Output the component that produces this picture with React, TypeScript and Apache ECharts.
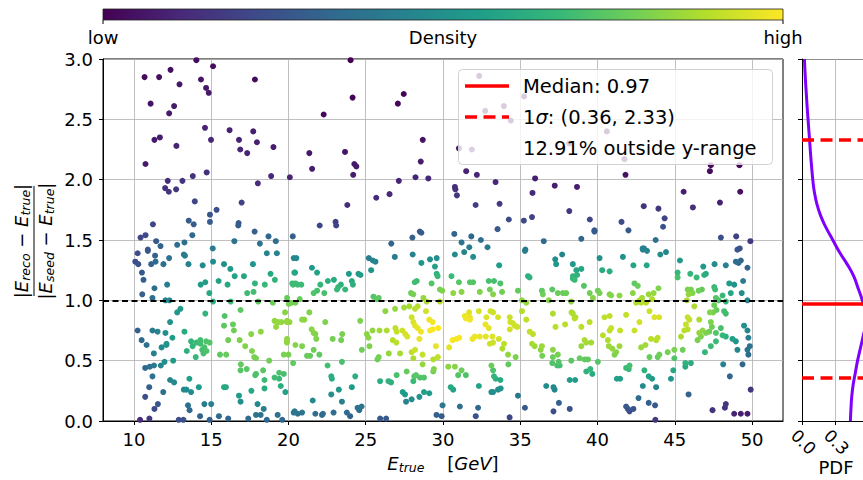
import React, { useEffect, useRef } from "react";
import * as echarts from "echarts";

const FONT = "DejaVu Sans";

// x-axis (E_true) ticks
const xTicks = [10, 15, 20, 25, 30, 35, 40, 45, 50];

// scatter points [E_true, ratio]
const pointsUpper: [number, number][] = [
  [10.69,2.85],[11.63,2.85],[12.37,2.91],[14.04,2.99],[15.12,2.94],[14.34,2.83],[14.67,2.76],[14.84,2.72],[12.95,2.79],[11.08,2.63],[12.6,2.61],[12.28,2.55],[17.83,2.83],[14.6,2.43],[11.33,2.33],[11.68,2.35],[14.99,2.33],[16.19,2.41],[16.8,2.33],[17.72,2.40],[17.96,2.31],[16.88,2.25],[17.33,2.22],[19.03,2.27],[12.75,2.28],[10.75,2.13],[13.81,2.03],[14.71,2.06],[12.19,1.99],[13.14,1.99],[12.02,1.93],[12.26,1.90],[12.73,1.92],[18.88,2.03],[18.02,1.97],[20.09,2.02],[13.94,1.82],[16.97,1.81],[15.35,1.75],[14.92,1.71],[14.92,1.65],[13.55,1.66],[13.87,1.63],[11.23,1.63],[16.75,1.62],[16.77,1.64],[17.81,1.57],[10.43,1.52],[10.75,1.54],[13.78,1.54],[11.44,1.49],[11.72,1.45],[12.8,1.46],[13.27,1.48],[16.5,1.49],[18.15,1.47],[18.71,1.53],[19.18,1.49],[20.28,1.53],[10.9,1.42],[15.1,1.43],
  [24.02,2.99],[24.15,2.68],[22.28,2.54],[27.46,2.71],[27.08,2.63],[28.69,2.33],[28.56,2.15],[21.35,2.22],[23.66,2.23],[21.53,2.09],[24.26,2.13],[24.39,2.11],[24.19,2.04],[27.14,1.99],[28.22,2.02],[29.05,2.01],[25.68,1.85],[26.54,1.88],[23.81,1.79],[22.02,1.62],[23.05,1.65],[23.09,1.62],[26.65,1.47],[28.02,1.52],[28.5,1.57],[28.6,1.56],[30.73,1.55],[31.2,1.48],[31.83,1.53],[32.45,1.50],[31.7,1.44],[32.88,1.44],[33.53,1.59],[34.26,1.67],[35.23,1.66],[35.76,1.69],[35.33,1.42],[36.52,1.49],[38.17,1.74],[35.79,1.89],[37.23,1.95],[38.67,1.94],[35.96,2.01],[33.4,1.98],[32.19,2.04],[31.5,2.07],[30.77,1.94],[30.8,1.92],[30.9,1.87],[32.11,1.79],[33.66,1.80],[32.34,2.86],[32.73,2.57],[33.94,2.61],[34.39,2.49],[35.25,2.69],[31.03,2.26],[31.87,2.25],
  [40.6,2.40],[38.17,2.30],[41.74,2.17],[41.81,2.04],[47.33,2.12],[47.27,2.07],[49.18,2.12],[45.57,1.90],[49.23,1.90],[42.99,1.78],[43.94,1.76],[46.17,1.77],[47.92,1.81],[39.5,1.67],[41.55,1.65],[44.34,1.68],[44.24,1.61],[42.0,1.58],[39.8,1.57],[39.8,1.58],[38.95,1.51],[43.76,1.50],[47.98,1.52],[48.97,1.53],[49.89,1.49],[42.92,1.43],[43.0,1.43],[49.2,1.43],
];

const pointsLeft: [number, number][] = [
  [10.24,1.39],[10.9,1.41],[11.37,1.37],[12.28,1.35],[10.09,1.32],[10.28,1.30],[11.12,1.30],[11.4,1.32],[11.91,1.30],[10.52,1.23],[10.62,1.17],[10.54,1.05],[11.2,1.02],[11.33,1.10],[12.15,1.13],[13.23,1.38],[13.3,1.37],[13.53,1.30],[14.45,1.29],[15.12,1.32],[15.83,1.30],[16.24,1.26],[16.52,1.20],[17.12,1.20],[17.7,1.30],[18.6,1.39],[19.25,1.39],[18.84,1.22],[19.12,1.17],[17.33,1.06],[17.74,1.07],[17.83,1.14],[18.47,1.13],[18.04,0.99],[14.62,1.15],[14.32,1.13],[14.88,1.06],[15.48,1.16],[16.06,1.13],[16.26,0.99],[15.12,0.99],[12.04,1.0],[12.3,1.0],[18.99,0.98],[20.02,0.97],[20.43,1.23],[20.3,1.13],[20.6,1.13],[20.34,1.35],
  [13.01,0.93],[12.8,0.90],[14.62,0.89],[15.87,0.87],[16.9,0.92],[12.34,0.82],[10.24,0.75],[11.2,0.75],[11.53,0.74],[12.04,0.73],[13.27,0.74],[12.49,0.69],[10.5,0.67],[10.82,0.63],[12.11,0.64],[12.1,0.63],[11.79,0.61],[11.29,0.56],[13.7,0.66],[13.8,0.62],[13.42,0.58],[14.04,0.65],[14.3,0.64],[14.3,0.67],[14.68,0.66],[14.56,0.61],[14.42,0.59],[14.5,0.56],[14.7,0.58],[14.9,0.65],[14.0,0.53],[16.41,0.80],[16.47,0.75],[16.84,0.67],[17.2,0.62],[17.59,0.72],[18.21,0.74],[17.64,0.58],[17.78,0.53],[17.9,0.52],[15.57,0.55],[15.97,0.55],[15.83,0.79],[16.1,0.67],
  [10.73,0.44],[11.03,0.45],[11.3,0.46],[11.74,0.46],[11.98,0.49],[12.54,0.50],[11.2,0.37],[12.34,0.34],[12.6,0.32],[13.59,0.35],[13.23,0.26],[13.4,0.26],[14.2,0.28],[13.7,0.24],[10.99,0.28],[10.73,0.20],[11.9,0.24],[11.55,0.14],[11.33,0.10],[13.5,0.13],[13.6,0.09],[14.28,0.04],[14.56,0.14],[15.0,0.14],[15.83,0.28],[15.95,0.28],[16.92,0.47],[17.3,0.43],[16.9,0.42],[17.9,0.39],[17.85,0.38],[18.36,0.42],[18.75,0.50],[18.45,0.34],[19.1,0.36],[19.4,0.35],[19.4,0.40],[19.7,0.39],[19.5,0.29],[19.8,0.24],[16.8,0.21],[16.9,0.16],[17.6,0.25],[18.45,0.27],[18.0,0.14],[18.4,0.10],[18.2,0.05],[17.9,0.05],[15.5,0.04],[16.1,0.02],[17.4,0.02],[14.9,0.01],[18.6,0.01],[19.6,0.01],[19.3,0.05],[20.4,0.08],[20.6,0.06],[10.4,0.01],[11.0,0.02],[12.9,0.01],[13.2,0.01],
  [19.1,0.83],[19.35,0.82],[19.55,0.82],[19.9,0.82],[20.07,0.82],[19.2,0.78],[19.9,0.66],[19.9,0.65],[19.7,0.55],[20.0,0.55],
];

const pointsMiddle: [number, number][] = [
  [20.51,1.35],[25.2,1.35],[25.46,1.33],[25.63,1.32],[26.88,1.36],[28.04,1.38],[28.6,1.31],[29.16,1.34],[29.59,1.35],[29.48,1.28],[30.77,1.38],[31.37,1.40],[31.95,1.36],[33.63,1.29],[35.3,1.41],[37.26,1.34],[37.32,1.30],[37.71,1.38],[38.4,1.30],
  [20.38,1.23],[21.52,1.27],[21.85,1.23],[23.91,1.22],[24.53,1.22],[24.66,1.21],[25.35,1.25],[29.59,1.22],[29.65,1.20],[30.55,1.20],
  [20.25,1.14],[20.45,1.14],[20.83,1.13],[22.55,1.16],[22.94,1.17],[22.06,1.13],[23.22,1.11],[23.39,1.13],[23.14,1.09],[23.67,1.09],[24.1,1.16],[24.17,1.13],[21.63,1.06],[21.85,1.08],[22.32,1.06],[28.17,1.15],[28.3,1.16],[29.26,1.14],[29.8,1.09],[29.95,1.08],[31.03,1.15],[31.74,1.15],[31.95,1.15],[32.96,1.16],[33.3,1.16],[33.71,1.14],[32.38,1.07],[33.03,1.09],[33.82,1.07],[33.24,1.05],[34.85,1.08],[35.5,1.20],[35.6,1.19],[36.4,1.08],[36.46,1.05],[37.07,1.09],[37.76,1.06],[37.97,1.06],[38.68,1.21],[38.4,1.18],
  [19.91,1.02],[20.21,0.98],[20.45,0.98],[20.73,1.01],[25.5,1.03],[25.72,1.01],[25.84,1.02],[27.93,1.06],[28.08,1.05],[28.73,1.02],[28.94,0.99],[29.8,0.99],[30.66,1.06],[31.2,1.07],[35.11,1.0],[35.39,0.98],[36.85,1.0],[37.43,1.06],[38.29,0.99],
  [19.78,0.90],[20.88,0.84],[21.03,0.84],[21.35,0.90],[19.91,0.83],[21.63,0.73],[21.74,0.72],[21.5,0.76],[21.8,0.68],[22.38,0.82],[22.86,0.68],[23.48,0.72],[23.41,0.67],[19.91,0.68],[20.45,0.63],[20.88,0.62],[21.63,0.59],[21.2,0.54],[21.4,0.54],[22.0,0.55],[20.3,0.48],[22.53,0.46],[23.46,0.49],
  [24.64,0.83],[25.07,0.72],[25.18,0.69],[25.44,0.75],[25.24,0.62],[25.84,0.53],[25.76,0.51],[24.75,0.59],[25.89,0.75],[26.36,0.75],[26.27,0.91],[26.9,0.93],[27.48,0.94],[27.82,0.95],[28.19,0.93],[28.36,0.95],
  [26.92,0.77],[27.0,0.74],[27.37,0.75],[27.56,0.72],[27.69,0.70],[26.75,0.67],[26.98,0.65],[27.97,0.86],[28.08,0.82],[28.19,0.79],[28.36,0.77],[28.57,0.74],[28.9,0.91],[29.11,0.84],[29.33,0.82],[29.16,0.75],[29.33,0.76],[29.69,0.77],
  [26.49,0.56],[27.22,0.56],[27.97,0.57],[28.19,0.59],[28.08,0.52],[28.68,0.55],[28.68,0.47],[29.37,0.51],[29.67,0.53],[28.47,0.68],[29.54,0.62],[30.4,0.61],[30.62,0.67],[30.88,0.68],[31.05,0.69],
  [31.41,0.87],[31.48,0.85],[31.74,0.86],[31.74,0.84],[31.69,0.90],[32.32,0.91],[32.81,0.86],[33.07,0.91],[33.24,0.90],[33.56,0.86],
  [31.91,0.68],[32.06,0.70],[32.38,0.70],[32.77,0.70],[33.2,0.70],[33.61,0.68],[33.03,0.64],[33.24,0.65],[33.84,0.60],
  [32.75,0.80],[32.96,0.77],[34.32,0.86],[34.36,0.82],[34.53,0.81],[34.64,0.79],[34.81,0.78],[34.32,0.76],[35.11,0.91],[35.39,0.84],[35.61,0.74],[35.82,0.72],[35.93,0.62],[35.76,0.64],
  [34.21,0.55],[34.7,0.53],[33.95,0.64],[36.4,0.62],[36.32,0.59],[36.42,0.54],[37.11,0.59],[37.28,0.78],[37.9,0.80],[37.11,0.89],[38.4,0.89],[38.57,0.86],[37.11,0.53],[37.43,0.55],[37.07,0.48],[37.39,0.46],[37.48,0.49],
  [33.13,0.46],[33.24,0.42],[33.3,0.37],[33.41,0.35],[33.71,0.34],[33.13,0.24],[33.24,0.24],[33.56,0.26],[33.73,0.27],[34.23,0.47],
  [30.34,0.45],[30.77,0.45],[31.2,0.42],[31.48,0.38],[30.98,0.38],[32.32,0.29],
  [27.65,0.41],[28.14,0.37],[28.25,0.38],[28.51,0.36],[28.77,0.36],[28.08,0.33],[29.41,0.43],[29.37,0.41],[27.0,0.38],[26.64,0.32],[25.93,0.33],[26.47,0.33],
  [27.39,0.24],[27.54,0.22],[28.77,0.24],[29.11,0.23],[27.61,0.16],[27.97,0.18],[28.47,0.20],
  [24.32,0.37],[24.1,0.28],[22.77,0.37],[22.81,0.35],[23.26,0.26],[22.77,0.22],[23.46,0.16],[21.57,0.17],[24.73,0.12],[24.47,0.11],[24.58,0.09],
  [25.93,0.02],[26.32,0.02],[29.97,0.13],[29.91,0.04],[29.58,0.05],[31.09,0.12],[32.12,0.04],[32.27,0.11],[34.31,0.03],[34.85,0.21],[35.3,0.11],[36.68,0.29],[37.15,0.28],[37.22,0.26],[37.5,0.15],[37.15,0.08],[38.2,0.10],[38.2,0.34],[38.55,0.34],
  [20.34,0.07],[20.88,0.07],[21.74,0.06],[22.17,0.05],[22.23,0.06],[22.92,0.07],[23.78,0.07],[23.99,0.04],[30.66,0.26],[30.5,0.28],
];

const pointsRight: [number, number][] = [
  [40.13,1.35],[41.64,1.36],[42.32,1.29],[42.93,1.42],[43.2,1.41],[43.18,1.29],[44.06,1.38],[44.43,1.40],[45.33,1.33],[49.05,1.42],[48.95,1.32],[49.12,1.31],[49.27,1.33],[49.7,1.27],[48.3,1.29],[47.57,1.30],[46.84,1.28],[47.01,1.22],[46.9,1.21],[46.41,1.19],[46.0,1.22],[45.18,1.23],[45.18,1.19],[38.63,1.25],[38.95,1.26],[40.3,1.25],[40.78,1.24],[38.41,1.20],[38.52,1.17],[39.12,1.12],[39.49,1.06],[40.02,1.08],[40.13,1.06],[40.78,1.05],[40.88,1.04],[41.42,1.04],[42.39,1.14],[42.6,1.12],[42.28,1.06],[42.88,1.02],[43.31,1.05],[43.63,1.06],[43.94,1.10],[43.53,1.01],[45.83,1.09],[46.04,1.09],[46.15,1.06],[46.54,1.08],[46.75,1.09],[45.89,1.05],[47.55,1.11],[47.61,1.09],[48.09,1.04],[48.52,1.14],[48.84,1.13],[49.42,1.16],[48.62,1.06],[49.33,1.06],[47.66,1.02],[47.83,1.0],[48.3,0.99],[49.7,1.0],[45.78,1.0],[39.7,1.02],[42.71,1.0],[42.82,0.98],[42.5,0.98],[43.14,0.98],
  [46.26,0.95],[47.55,0.96],[47.7,0.92],[47.27,0.90],[47.48,0.90],[48.19,0.91],[48.3,0.89],[38.32,0.90],[38.52,0.85],[39.49,0.82],[40.45,0.86],[40.78,0.87],[41.85,0.88],[42.71,0.82],[43.36,0.91],[43.68,0.86],[43.99,0.86],[45.83,0.86],[45.94,0.84],[45.72,0.80],[46.58,0.84],[47.33,0.82],[47.4,0.78],[46.8,0.75],[46.58,0.73],[46.69,0.70],[47.01,0.73],[47.23,0.74],[47.66,0.73],[47.98,0.77],[48.09,0.71],[48.3,0.70],[48.73,0.68],[48.95,0.66],[49.48,0.79],[49.7,0.75],[49.76,0.69],[49.85,0.62],[49.7,0.59],[49.76,0.55],[49.05,0.59],[47.66,0.66],[47.33,0.62],[46.95,0.57],[46.47,0.67],[45.4,0.70],[45.61,0.75],[45.83,0.76],[45.51,0.59],[44.97,0.59],[44.97,0.52],[44.54,0.57],[44.0,0.55],[43.89,0.53],[43.36,0.53],[43.79,0.67],[43.89,0.69],[43.46,0.68],[43.1,0.63],[42.82,0.61],[42.39,0.75],[41.46,0.75],[40.88,0.77],[40.78,0.75],[40.67,0.67],[40.73,0.62],[40.95,0.60],[41.42,0.62],[41.2,0.57],[41.1,0.55],[40.35,0.71],[38.95,0.78],[39.16,0.67],[39.27,0.65],[39.59,0.65],[38.95,0.62],[38.84,0.52],[39.16,0.51],[39.38,0.51],[40.02,0.49],[38.3,0.50],[37.55,0.46],
  [39.27,0.41],[39.53,0.43],[39.66,0.39],[41.25,0.35],[41.46,0.35],[41.85,0.44],[42.07,0.46],[42.02,0.43],[43.03,0.42],[43.31,0.37],[43.53,0.35],[43.79,0.28],[42.93,0.29],[44.75,0.35],[44.9,0.42],[45.68,0.48],[45.68,0.45],[46.04,0.48],[48.13,0.47],[49.38,0.47],[48.56,0.37],[49.91,0.26],[45.89,0.22],[42.65,0.19],[43.31,0.15],[43.72,0.13],[41.85,0.12],[41.96,0.10],[42.07,0.08],[42.32,0.10],[43.74,0.01],[47.44,0.09],[48.3,0.14],[48.24,0.11],[48.84,0.06],[49.27,0.06],[49.7,0.06],
];

// PDF of the ratio (right panel)
const pdfY = [0,0.1,0.2,0.3,0.4,0.5,0.6,0.7,0.8,0.9,1.0,1.1,1.2,1.3,1.4,1.5,1.6,1.7,1.8,1.9,2.0,2.1,2.2,2.3,2.4,2.5,2.6,2.7,2.8,2.9,3.0];
const pdfValues = [0.44,0.445,0.452,0.465,0.485,0.505,0.53,0.555,0.575,0.575,0.548,0.51,0.47,0.41,0.34,0.28,0.22,0.17,0.135,0.112,0.098,0.088,0.079,0.071,0.063,0.055,0.047,0.04,0.033,0.027,0.022];
const pdfTicks = [0, 0.3];

const median = 0.97;
const sigmaLow = 0.36;
const sigmaHigh = 2.33;
const outsidePct = 12.91;

const viridis = ["#440154","#482878","#3e4989","#31688e","#26828e","#1f9e89","#35b779","#6ece58","#b5de2b","#fde725"];

function withDensity(pts: [number, number][]) {
  const bx = 3.2, by = 0.32;
  const d = pts.map(([x, y]) => {
    let s = 0;
    for (const [u, v] of pts) {
      const dx = (x - u) / bx, dy = (y - v) / by;
      s += Math.exp(-0.5 * (dx * dx + dy * dy));
    }
    return s;
  });
  const mn = Math.min(...d), mx = Math.max(...d);
  const out = pts.map((p, i) => [p[0], p[1], Math.pow((d[i] - mn) / (mx - mn), 1.35)]);
  out.sort((a, b) => a[2] - b[2]);
  return out;
}

const PDF_LEFT = 802;
const PDF_SCALE = 110; // px per unit of PDF
const PDF_WIDTH = 863 - PDF_LEFT;

export default function App() {
  const ref = useRef<HTMLDivElement>(null);
  useEffect(() => {
    if (!ref.current) return;
    const chart = echarts.init(ref.current, null, { renderer: "svg" });
    const allPts = [...pointsUpper, ...pointsLeft, ...pointsMiddle, ...pointsRight];
    const data = withDensity(allPts);
    const axisLineStyle = { color: "#000", width: 1 };
    const gridLine = { show: true, lineStyle: { color: "#b0b0b0", width: 0.8 } };
    const main = { fontSize: 18, fontFamily: FONT, color: "#000" };
    const it = { fontSize: 18, fontFamily: FONT, fontStyle: "italic", color: "#000" };
    const sub = { fontSize: 12.5, fontFamily: FONT, fontStyle: "italic", color: "#000", padding: [8, 0, 0, 0] };
    const legendText = { fontSize: 19.5, fontFamily: FONT, color: "#000" };
    const dashed = [12, 6.5];

    const option: any = {
      animation: false,
      backgroundColor: "#fff",
      textStyle: { fontFamily: FONT },
      grid: [
        { left: 103, top: 59, width: 680, height: 362, show: true, borderColor: "#000", borderWidth: 1, backgroundColor: "transparent", outerBoundsMode: "none" },
        { left: PDF_LEFT, top: 59, width: PDF_WIDTH, height: 362, show: false, outerBoundsMode: "none" },
      ],
      xAxis: [
        {
          gridIndex: 0, type: "value", min: 8, max: 52,
          axisLine: { show: true, onZero: false, lineStyle: axisLineStyle },
          axisTick: { show: true, length: 4, customValues: xTicks, lineStyle: axisLineStyle },
          axisLabel: { customValues: xTicks, fontSize: 18, color: "#000", margin: 9, fontFamily: FONT },
          splitLine: gridLine,
        },
        {
          gridIndex: 1, type: "value", min: 0, max: PDF_WIDTH / PDF_SCALE,
          axisLine: { show: true, onZero: false, lineStyle: axisLineStyle },
          axisTick: { show: true, length: 4, customValues: pdfTicks, lineStyle: axisLineStyle },
          axisLabel: { show: false, customValues: pdfTicks },
          splitLine: gridLine,
        },
      ],
      yAxis: [
        {
          gridIndex: 0, type: "value", min: 0, max: 3, interval: 0.5,
          axisLine: { show: true, onZero: false, lineStyle: axisLineStyle },
          axisTick: { show: true, length: 4, lineStyle: axisLineStyle },
          axisLabel: { fontSize: 18, color: "#000", margin: 10, fontFamily: FONT, formatter: (v: number) => v.toFixed(1) },
          splitLine: gridLine,
        },
        {
          gridIndex: 1, type: "value", min: 0, max: 3, interval: 0.5,
          axisLine: { show: true, onZero: false, lineStyle: axisLineStyle },
          axisTick: { show: true, length: 4, lineStyle: axisLineStyle },
          axisLabel: { show: false },
          splitLine: gridLine,
        },
      ],
      visualMap: {
        type: "continuous", show: false, min: 0, max: 1, dimension: 2, seriesIndex: 0,
        inRange: { color: viridis },
      },
      series: [
        {
          type: "scatter", xAxisIndex: 0, yAxisIndex: 0, data, symbolSize: 6, clip: true,
          itemStyle: { opacity: 1 },
          markLine: {
            silent: true, symbol: "none", label: { show: false },
            lineStyle: { color: "#000", width: 2, type: [6, 3.5] },
            data: [{ yAxis: 1 }],
          },
        },
        {
          type: "line", xAxisIndex: 1, yAxisIndex: 1, smooth: true, showSymbol: false, clip: true,
          data: pdfValues.map((v, i) => [v, pdfY[i]]),
          lineStyle: { color: "#8000ff", width: 3 },
          z: 3,
        },
        {
          type: "line", xAxisIndex: 1, yAxisIndex: 1, data: [], z: 4,
          markLine: {
            silent: true, symbol: "none", label: { show: false },
            data: [
              { yAxis: median, lineStyle: { color: "#ff0000", width: 3.5, type: "solid" } },
              { yAxis: sigmaLow, lineStyle: { color: "#ff0000", width: 3.5, type: dashed } },
              { yAxis: sigmaHigh, lineStyle: { color: "#ff0000", width: 3.5, type: dashed } },
            ],
          },
        },
      ],
      graphic: [
        // top spine of PDF panel
        { type: "line", shape: { x1: PDF_LEFT, y1: 59.5, x2: 863, y2: 59.5 }, style: { stroke: "#000", lineWidth: 1 } },
        // colorbar
        {
          type: "rect", shape: { x: 103, y: 9, width: 680, height: 11 },
          style: {
            fill: new echarts.graphic.LinearGradient(0, 0, 1, 0, viridis.map((c, i) => ({ offset: i / (viridis.length - 1), color: c }))),
            stroke: "#222", lineWidth: 0.8,
          },
        },
        { type: "line", shape: { x1: 103, y1: 20, x2: 103, y2: 24 }, style: { stroke: "#000", lineWidth: 1 } },
        { type: "line", shape: { x1: 783, y1: 20, x2: 783, y2: 24 }, style: { stroke: "#000", lineWidth: 1 } },
        { type: "text", x: 103, y: 37, style: { text: "low", ...main, align: "center", verticalAlign: "middle" } },
        { type: "text", x: 443, y: 37, style: { text: "Density", ...main, align: "center", verticalAlign: "middle" } },
        { type: "text", x: 783, y: 37, style: { text: "high", ...main, align: "center", verticalAlign: "middle" } },
        // legend
        {
          type: "rect", shape: { x: 458.5, y: 69.5, width: 314, height: 95, r: 4 }, z: 100,
          style: { fill: "rgba(255,255,255,0.8)", stroke: "rgba(204,204,204,0.9)", lineWidth: 1 },
        },
        { type: "line", z: 101, shape: { x1: 465, y1: 86, x2: 509, y2: 86 }, style: { stroke: "#ff0000", lineWidth: 3.5 } },
        { type: "line", z: 101, shape: { x1: 465, y1: 117, x2: 509, y2: 117 }, style: { stroke: "#ff0000", lineWidth: 3.5, lineDash: dashed } },
        { type: "text", z: 101, x: 523, y: 86, style: { text: `Median: ${median.toFixed(2)}`, ...legendText, verticalAlign: "middle" } },
        {
          type: "text", z: 101, x: 523, y: 117,
          style: {
            text: `{n|1}{i|σ}{n|: (${sigmaLow.toFixed(2)}, ${sigmaHigh.toFixed(2)})}`,
            ...legendText, verticalAlign: "middle",
            rich: { n: { ...legendText }, i: { ...legendText, fontStyle: "italic" } },
          },
        },
        { type: "text", z: 101, x: 523, y: 148, style: { text: `${outsidePct.toFixed(2)}% outside y-range`, ...legendText, verticalAlign: "middle" } },
        // y label (fraction)
        {
          type: "group", x: 34, y: 241, rotation: Math.PI / 2,
          children: [
            {
              type: "text", x: 0, y: -2,
              style: {
                text: "{b||}{e|E}{s|reco}{b| − }{e|E}{s|true}{b||}",
                align: "center", verticalAlign: "bottom",
                rich: { b: { ...main }, e: { ...it }, s: { ...sub } },
              },
            },
            { type: "line", shape: { x1: -55, y1: 0, x2: 55, y2: 0 }, style: { stroke: "#000", lineWidth: 1 } },
            {
              type: "text", x: 0, y: 1,
              style: {
                text: "{b||}{e|E}{s|seed}{b| − }{e|E}{s|true}{b||}",
                align: "center", verticalAlign: "top",
                rich: { b: { ...main }, e: { ...it }, s: { ...sub } },
              },
            },
          ],
        },
        // x label
        {
          type: "text", x: 443, y: 463,
          style: {
            text: "{e|E}{s|true}{b|    [}{e|GeV}{b|]}",
            align: "center", verticalAlign: "middle",
            rich: { b: { ...main }, e: { ...it }, s: { ...sub } },
          },
        },
        // PDF panel labels
        ...pdfTicks.map((t) => ({
          type: "text", x: PDF_LEFT + 1.5 + t * PDF_SCALE, y: 442, rotation: -Math.PI / 4,
          style: { text: t.toFixed(1), ...main, fontSize: 17, align: "center", verticalAlign: "middle" },
        })),
        { type: "text", x: 836, y: 467, style: { text: "PDF", ...main, align: "center", verticalAlign: "middle" } },
      ],
    };
    chart.setOption(option);
    return () => chart.dispose();
  }, []);
  return <div ref={ref} style={{ width: 863, height: 480, position: "absolute", left: 0, top: 0 }} />;
}
